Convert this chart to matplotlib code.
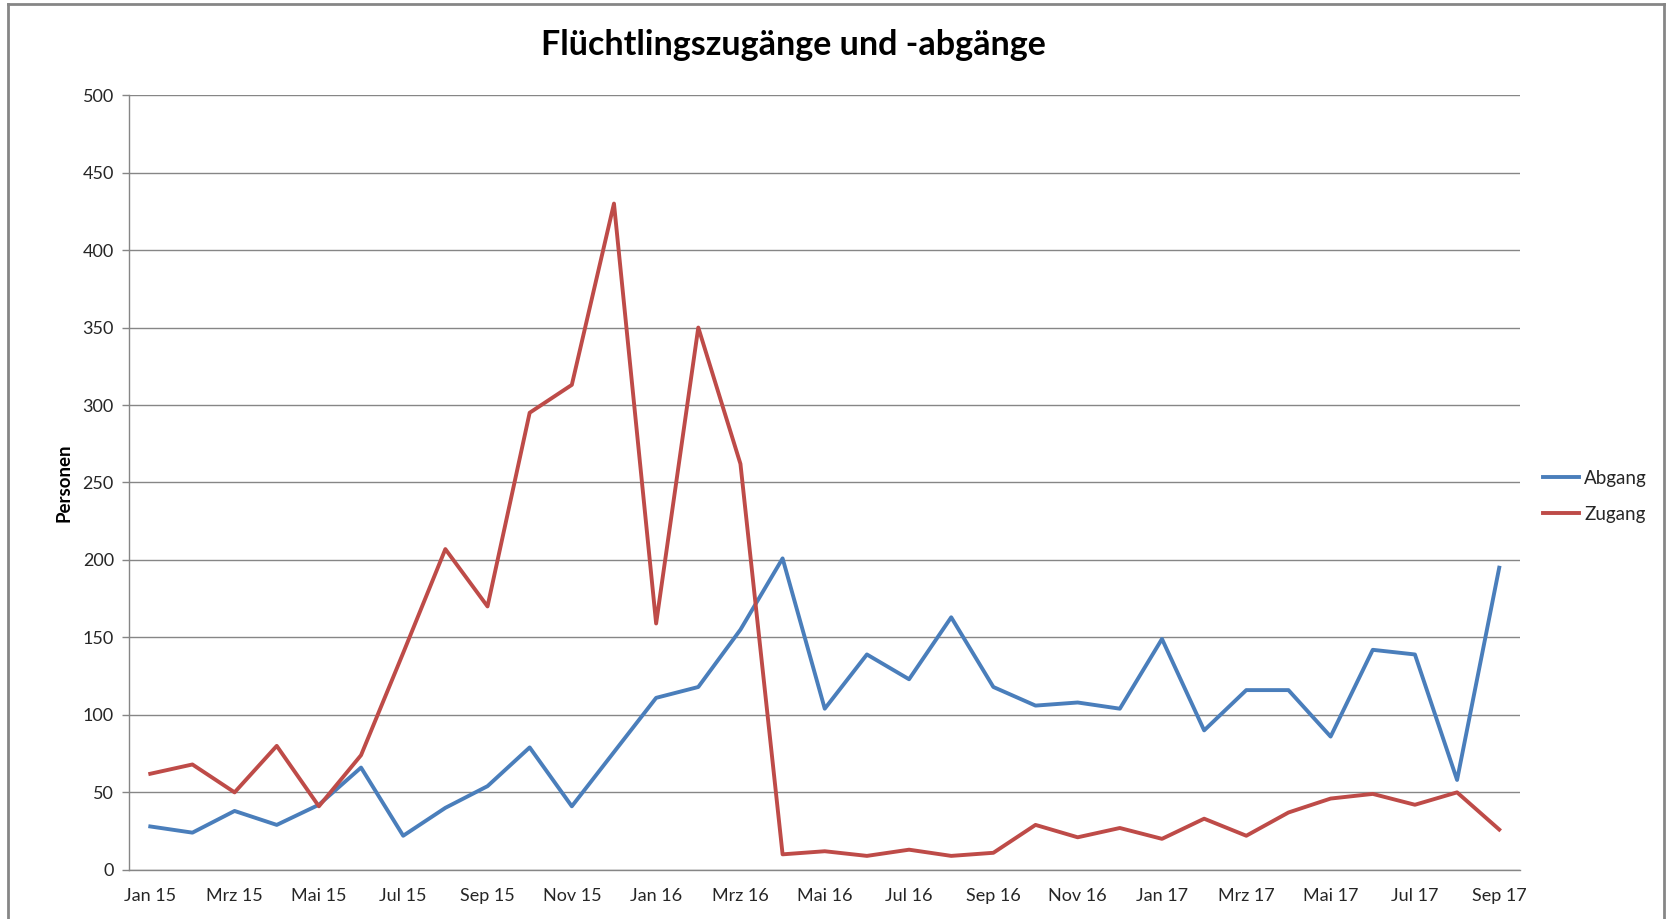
import matplotlib
matplotlib.use("Agg")
import matplotlib.pyplot as plt
from matplotlib.lines import Line2D

months = ["Jan 15","Feb 15","Mrz 15","Apr 15","Mai 15","Jun 15","Jul 15","Aug 15","Sep 15","Okt 15","Nov 15","Dez 15",
          "Jan 16","Feb 16","Mrz 16","Apr 16","Mai 16","Jun 16","Jul 16","Aug 16","Sep 16","Okt 16","Nov 16","Dez 16",
          "Jan 17","Feb 17","Mrz 17","Apr 17","Mai 17","Jun 17","Jul 17","Aug 17","Sep 17"]
abgang = [28, 24, 38, 29, 42, 66, 22, 40, 54, 79, 41, 76,
          111, 118, 155, 201, 104, 139, 123, 163, 118, 106, 108, 104,
          149, 90, 116, 116, 86, 142, 139, 58, 195]
zugang = [62, 68, 50, 80, 41, 74, 140, 207, 170, 295, 313, 430,
          159, 350, 262, 10, 12, 9, 13, 9, 11, 29, 21, 27,
          20, 33, 22, 37, 46, 49, 42, 50, 26]

plt.rcParams['font.family'] = ['Lato', 'DejaVu Sans']
txt = "#262626"

fig = plt.figure(figsize=(16.67, 9.19), dpi=100)
ax = fig.add_axes([0.0775, 0.0535, 0.8345, 0.843])

x = list(range(len(months)))
l1, = ax.plot(x, abgang, color="#4A7EBB", lw=2.8, label="Abgang", solid_joinstyle="round")
l2, = ax.plot(x, zugang, color="#BE4B48", lw=2.8, label="Zugang", solid_joinstyle="round")

ax.set_xlim(-0.5, len(months) - 0.5)
ax.set_ylim(0, 500)
ax.set_yticks(range(0, 501, 50))
ax.set_xticks(x[::2])
ax.set_xticklabels(months[::2])
ax.tick_params(axis="x", length=0, labelsize=13, colors=txt, pad=13)
ax.tick_params(axis="y", length=5, width=1, color="#868686", labelsize=13, labelcolor=txt, pad=6)
ax.grid(axis="y", color="#868686", lw=1)
ax.set_axisbelow(True)
for s in ["top", "right"]:
    ax.spines[s].set_visible(False)
for s in ["left", "bottom"]:
    ax.spines[s].set_color("#868686")
    ax.spines[s].set_linewidth(1)

ax.set_ylabel("Personen", fontsize=13.5, fontweight="bold", labelpad=7, color="black")
fig.text(0.476, 0.951, "Flüchtlingszugänge und -abgänge", ha="center", va="center",
         fontsize=24.5, fontweight="bold")

fig.legend(handles=[l1, l2], loc="center left", bbox_to_anchor=(0.9155, 0.46),
           frameon=False, fontsize=13.5, handlelength=1.9, labelspacing=1.0, handletextpad=0.3,
           labelcolor=txt)

# chart border
bc = "#868686"
fig.add_artist(Line2D([0.0045, 0.9985], [0.9955, 0.9955], color=bc, lw=2, transform=fig.transFigure))
fig.add_artist(Line2D([0.9985, 0.9985], [0, 0.9955], color=bc, lw=2, transform=fig.transFigure))
fig.add_artist(Line2D([0.0045, 0.0045], [0, 0.9955], color=bc, lw=2, transform=fig.transFigure))

fig.savefig("out.png", dpi=100)
